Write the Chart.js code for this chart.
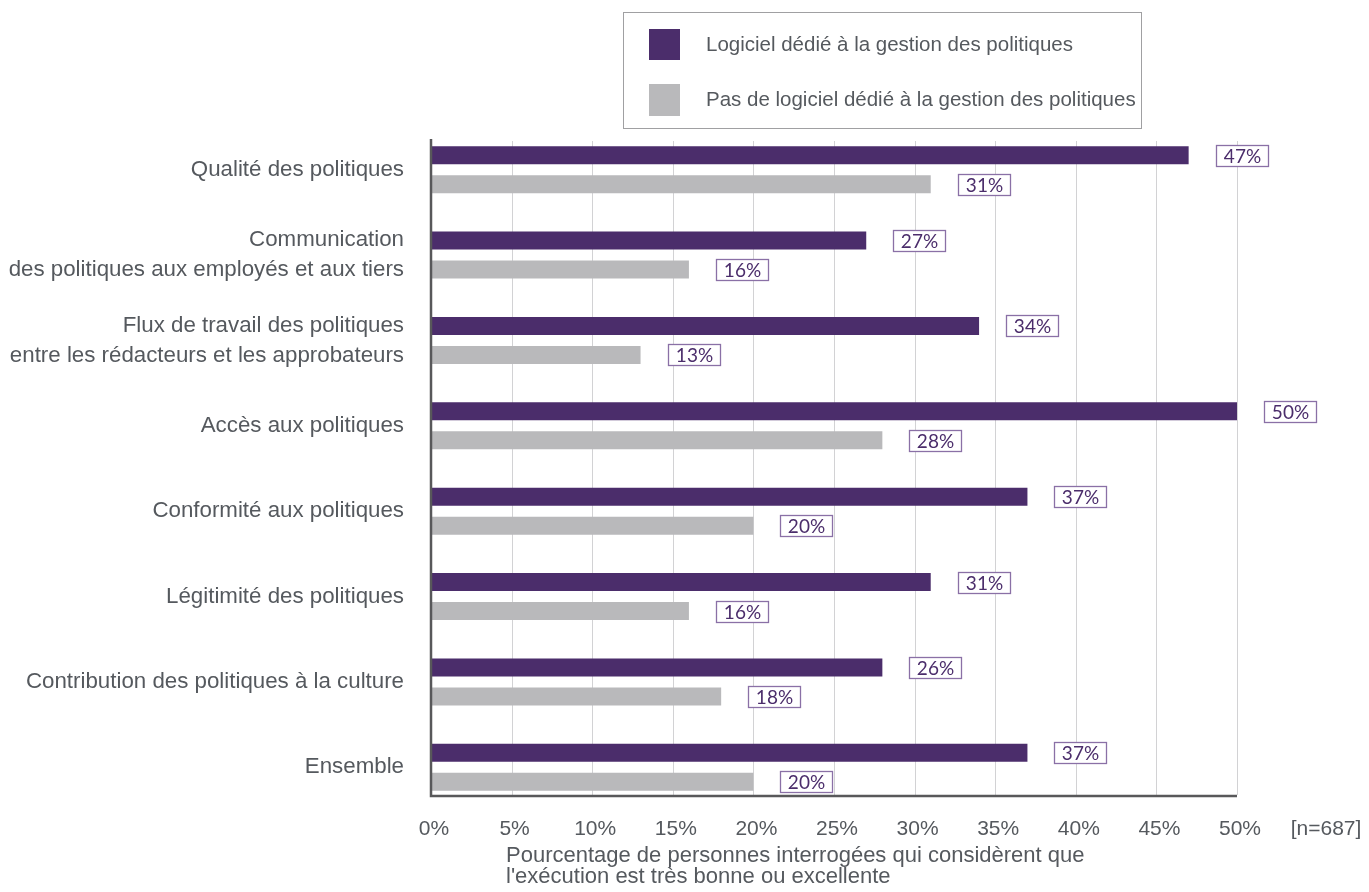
<!DOCTYPE html>
<html>
<head>
<meta charset="utf-8">
<script src="https://cdn.jsdelivr.net/npm/chart.js@4/dist/chart.umd.min.js"></script>
<style>
html,body{margin:0;padding:0;background:#fff;}
#wrap{width:1369px;height:892px;position:relative;}
</style>
</head>
<body>
<div id="wrap"><canvas id="c" width="1369" height="892"></canvas></div>
<script>
const categories = [
  ["Qualité des politiques"],
  ["Communication", "des politiques aux employés et aux tiers"],
  ["Flux de travail des politiques", "entre les rédacteurs et les approbateurs"],
  ["Accès aux politiques"],
  ["Conformité aux politiques"],
  ["Légitimité des politiques"],
  ["Contribution des politiques à la culture"],
  ["Ensemble"]
];
const seriesNames = ["Logiciel dédié à la gestion des politiques", "Pas de logiciel dédié à la gestion des politiques"];
const withSoftware = [47, 27, 34, 50, 37, 31, 28, 37];
const withoutSoftware = [31, 16, 13, 28, 20, 16, 18, 20];
const labelsWith = ["47%", "27%", "34%", "50%", "37%", "31%", "26%", "37%"];
const labelsWithout = ["31%", "16%", "13%", "28%", "20%", "16%", "18%", "20%"];
const xMin = 0, xMax = 50, xStep = 5;
const sampleNote = "[n=687]";
const axisTitle = ["Pourcentage de personnes interrogées qui considèrent que", "l'exécution est très bonne ou excellente"];

const PURPLE = "#4b2d6b";
const GREY = "#b9b9bb";
const TEXT = "#55595e";
const FONT = "'Liberation Sans', Arial, sans-serif";

const decor = {
  id: "decor",
  beforeDatasetsDraw(chart) {
    const ctx = chart.ctx, xs = chart.scales.x;
    ctx.save();
    ctx.strokeStyle = "#d2d2d4";
    ctx.lineWidth = 1;
    for (let v = xMin + xStep; v <= xMax; v += xStep) {
      const px = Math.round(xs.getPixelForValue(v)) + 0.5;
      ctx.beginPath();
      ctx.moveTo(px, 141);
      ctx.lineTo(px, 795);
      ctx.stroke();
    }
    ctx.restore();
  },
  afterDatasetsDraw(chart) {
    const ctx = chart.ctx;
    const sets = [labelsWith, labelsWithout];
    ctx.save();
    ctx.font = "19px Lato, 'Open Sans', sans-serif";
    ctx.textAlign = "center";
    ctx.textBaseline = "middle";
    chart.data.datasets.forEach((ds, di) => {
      const meta = chart.getDatasetMeta(di);
      meta.data.forEach((el, i) => {
        const x0 = Math.round(el.x + 27) + 0.5;
        const y0 = Math.round(el.y - 10.5) + 0.5;
        ctx.fillStyle = "#fff";
        ctx.fillRect(x0, y0, 52, 21);
        ctx.strokeStyle = "#8a70a6";
        ctx.lineWidth = 1.3;
        ctx.strokeRect(x0, y0, 52, 21);
        ctx.fillStyle = PURPLE;
        ctx.fillText(sets[di][i], x0 + 26, y0 + 11.5);
      });
    });
    ctx.restore();
  },
  afterDraw(chart) {
    const ctx = chart.ctx, xs = chart.scales.x;
    ctx.save();
    // axis lines
    ctx.strokeStyle = "#58585a";
    ctx.lineWidth = 2.5;
    const x0 = xs.getPixelForValue(xMin), x1 = xs.getPixelForValue(xMax);
    ctx.beginPath();
    ctx.moveTo(x0, 139);
    ctx.lineTo(x0, 796);
    ctx.lineTo(x1, 796);
    ctx.stroke();
    // legend
    ctx.strokeStyle = "#a0a0a2";
    ctx.lineWidth = 1;
    ctx.strokeRect(623.5, 12.5, 518, 116);
    ctx.fillStyle = PURPLE;
    ctx.fillRect(649, 29, 31, 31);
    ctx.fillStyle = GREY;
    ctx.fillRect(649, 84, 31, 32);
    ctx.fillStyle = TEXT;
    ctx.font = "20.5px " + FONT;
    ctx.textAlign = "left";
    ctx.textBaseline = "middle";
    ctx.fillText(seriesNames[0], 706, 45);
    ctx.fillText(seriesNames[1], 706, 100);
    // note
    ctx.font = "21px " + FONT;
    ctx.textAlign = "center";
    ctx.fillText(sampleNote, 1326, 829);
    // axis title
    ctx.font = "22px " + FONT;
    ctx.textAlign = "left";
    ctx.fillText(axisTitle[0], 506, 856);
    ctx.fillText(axisTitle[1], 506, 877);
    ctx.restore();
  }
};

new Chart(document.getElementById("c"), {
  type: "bar",
  data: {
    labels: categories,
    datasets: [
      { label: seriesNames[0], data: withSoftware, backgroundColor: PURPLE, borderWidth: 0 },
      { label: seriesNames[1], data: withoutSoftware, backgroundColor: GREY, borderWidth: 0 }
    ]
  },
  options: {
    indexAxis: "y",
    responsive: false,
    animation: false,
    devicePixelRatio: 1,
    layout: { padding: { top: 127, right: 132, left: 0, bottom: 0 } },
    categoryPercentage: 0.68,
    barPercentage: 0.62,
    plugins: { legend: { display: false }, tooltip: { enabled: false }, title: { display: false } },
    scales: {
      x: {
        min: xMin, max: xMax,
        grid: { display: false, drawTicks: false },
        border: { display: false },
        ticks: {
          stepSize: xStep,
          padding: 7,
          labelOffset: 3,
          color: TEXT,
          font: { family: FONT, size: 21 },
          callback: v => v + "%"
        },
        afterFit(s) { s.height = 82; }
      },
      y: {
        grid: { display: false, drawTicks: false },
        border: { display: false },
        ticks: {
          padding: 27,
          color: TEXT,
          font: { family: FONT, size: 22.3, lineHeight: 1.34 }
        },
        afterFit(s) { s.width = 431; }
      }
    }
  },
  plugins: [decor]
});
</script>
</body>
</html>
